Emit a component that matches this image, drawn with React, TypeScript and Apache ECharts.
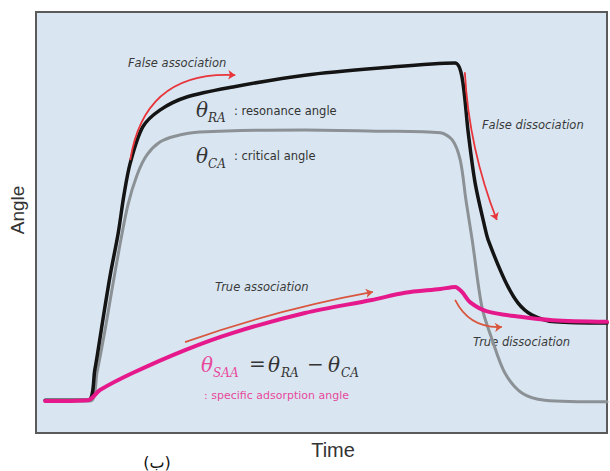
import React, { useEffect, useRef } from "react";
import * as echarts from "echarts";

// Curves (time %, angle %)
const resonanceAngle: [number, number][] = [
  [1.6, 7.8], [9.1, 7.8], [10.3, 15.0], [11.7, 26.8], [13.0, 37.5], [14.4, 47.5],
  [15.4, 56.5], [16.5, 64.1], [18.7, 72.7], [21.7, 76.7], [26.4, 79.8], [34.5, 82.2],
  [47.1, 85.0], [60.2, 86.7], [73.4, 87.9], [74.6, 84.6], [75.7, 71.3], [76.9, 59.4],
  [78.6, 48.9], [79.2, 45.8], [82.1, 36.3], [84.4, 30.9], [86.9, 28.0], [90.9, 26.4],
  [100, 26.1],
];
const criticalAngle: [number, number][] = [
  [1.6, 7.6], [9.5, 7.6], [10.7, 14.5], [12.1, 24.5], [13.3, 34.0], [14.7, 44.7],
  [16.1, 54.2], [17.7, 61.3], [19.4, 66.0], [21.7, 69.1], [24.3, 70.5], [28.7, 71.5],
  [47.1, 72.0], [60.2, 71.7], [70.8, 71.3], [72.9, 69.6], [74.3, 64.8], [75.3, 55.3],
  [76.4, 45.8], [78.1, 29.9], [79.9, 22.1], [82.1, 14.3], [85.1, 9.5], [89.1, 7.8],
  [100, 7.4],
];
const specificAngle: [number, number][] = [
  [1.6, 7.6], [9.1, 7.8], [11.2, 10.2], [17.0, 14.3], [26.1, 19.7], [34.5, 23.8],
  [47.1, 28.5], [58.8, 31.6], [64.6, 33.3], [70.8, 34.2], [73.4, 34.7], [74.6, 33.5],
  [76.0, 31.1], [79.0, 28.9], [84.8, 27.6], [90.5, 26.8], [100, 26.4],
];

// Annotation arrows: [start, end, curveness]
const arrowFalseAssoc = { coords: [[16.5, 64.8], [34.9, 85.0]], curveness: 0.45 };
const arrowFalseDiss = { coords: [[75.1, 85.7], [80.7, 50.6]], curveness: -0.08 };
const arrowTrueAssoc = { coords: [[26.1, 21.6], [59.0, 33.5]], curveness: 0.04 };
const arrowTrueDiss = { coords: [[73.4, 31.6], [81.6, 25.2]], curveness: -0.33 };

const annotationLabels = ["False association", "False dissociation", "True association", "True dissociation"];

const MAGENTA = "#e6198c";
const MAGENTA_TEXT = "#e8489c";
const TXT = "#333333";
const SERIF = "DejaVu Serif";
const SANS = "DejaVu Sans";

export default function App() {
  const ref = useRef<HTMLDivElement>(null);
  useEffect(() => {
    if (!ref.current) return;
    const chart = echarts.init(ref.current, undefined, { renderer: "svg" });
    const theta = (x: number, y: number, color = TXT) => ({
      type: "text", x, y,
      style: { text: "θ", font: `italic 20px '${SERIF}'`, fill: color, textVerticalAlign: "middle" },
    });
    const sub = (x: number, y: number, t: string, color = TXT) => ({
      type: "text", x, y,
      style: { text: t, font: `italic 12px '${SERIF}'`, fill: color, textVerticalAlign: "middle" },
    });
    const small = (x: number, y: number, t: string, color = TXT, size = 11.5) => ({
      type: "text", x, y,
      style: { text: t, font: `${size}px '${SANS}'`, fill: color, textVerticalAlign: "middle" },
    });
    const ital = (x: number, y: number, t: string) => ({
      type: "text", x, y,
      style: { text: t, font: `italic 11.5px '${SANS}'`, fill: "#3a3a3a", textVerticalAlign: "middle" },
    });
    const arrowSeries = (a: { coords: number[][]; curveness: number }, color: string) => ({
      type: "lines",
      coordinateSystem: "cartesian2d",
      symbol: ["none", "arrow"],
      symbolSize: 7,
      z: 5,
      lineStyle: { color, width: 1.8, opacity: 1, curveness: a.curveness },
      data: [{ coords: a.coords, lineStyle: { curveness: a.curveness } }],
      silent: true,
    });
    const curve = (name: string, data: [number, number][], color: string, width: number, z: number) => ({
      name, type: "line", data, symbol: "none", smooth: 0.3, z,
      lineStyle: { color, width, cap: "round", join: "round" },
    });
    chart.setOption({
      animation: false,
      grid: {
        left: 36, top: 12, right: 3, bottom: 38,
        show: true, backgroundColor: "#d9e6f1", borderColor: "#5a5a5a", borderWidth: 2,
      },
      xAxis: {
        type: "value", min: 0, max: 100,
        axisLine: { show: false }, axisTick: { show: false }, axisLabel: { show: false }, splitLine: { show: false },
      },
      yAxis: {
        type: "value", min: 0, max: 100,
        axisLine: { show: false }, axisTick: { show: false }, axisLabel: { show: false }, splitLine: { show: false },
      },
      series: [
        curve("θCA", criticalAngle, "#8c9196", 3, 2),
        curve("θRA", resonanceAngle, "#141414", 3.5, 3),
        curve("θSAA", specificAngle, MAGENTA, 4, 4),
        arrowSeries(arrowFalseAssoc, "#e8353b"),
        arrowSeries(arrowFalseDiss, "#e8353b"),
        arrowSeries(arrowTrueAssoc, "#d9553e"),
        arrowSeries(arrowTrueDiss, "#d9553e"),
      ],
      graphic: [
        { type: "text", x: 17, y: 210, rotation: Math.PI / 2,
          style: { text: "Angle", font: "19px 'Liberation Sans'", fill: TXT, textAlign: "center", textVerticalAlign: "middle" } },
        { type: "text", x: 333, y: 450,
          style: { text: "Time", font: "20px 'Liberation Sans'", fill: TXT, textAlign: "center", textVerticalAlign: "middle" } },
        { type: "text", x: 157, y: 462,
          style: { text: "(ب)", font: "16px 'DejaVu Sans'", fill: "#111", textAlign: "center", textVerticalAlign: "middle" } },
        ital(128, 63, annotationLabels[0]),
        ital(482, 125, annotationLabels[1]),
        ital(215, 287, annotationLabels[2]),
        ital(473, 342, annotationLabels[3]),
        theta(196, 110), sub(208, 118, "RA"), small(234, 111, ": resonance angle"),
        theta(196, 156), sub(208, 164, "CA"), small(234, 156, ": critical angle"),
        theta(201, 365, MAGENTA_TEXT), sub(213, 373, "SAA", MAGENTA_TEXT),
        { type: "text", x: 249, y: 364, style: { text: "=", font: `20px '${SERIF}'`, fill: TXT, textVerticalAlign: "middle" } },
        theta(268, 365), sub(281, 373, "RA"),
        { type: "text", x: 307, y: 364, style: { text: "−", font: `20px '${SERIF}'`, fill: TXT, textVerticalAlign: "middle" } },
        theta(328, 365), sub(341, 373, "CA"),
        small(204, 395, ": specific adsorption angle", MAGENTA_TEXT, 11),
      ],
    });
    return () => chart.dispose();
  }, []);
  return (
    <div
      ref={ref}
      style={{ position: "absolute", left: 0, top: 0, width: 610, height: 471, background: "#fff" }}
    />
  );
}
